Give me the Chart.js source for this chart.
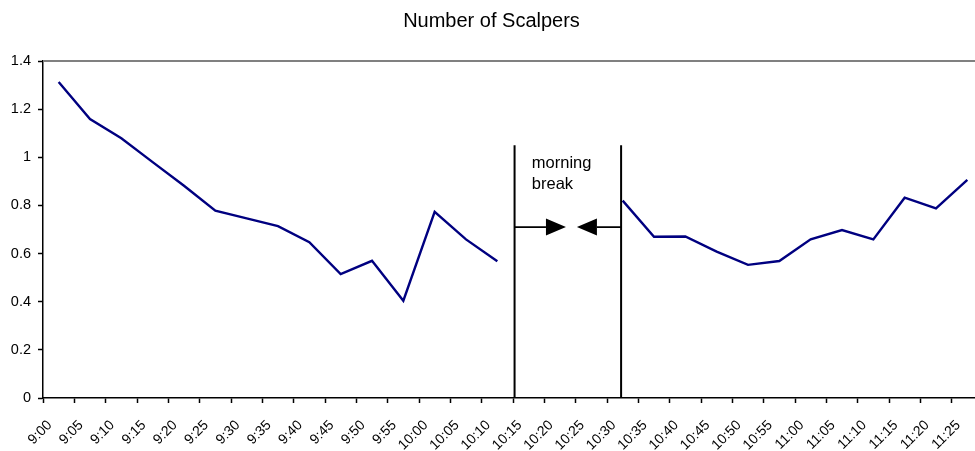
<!DOCTYPE html>
<html>
<head>
<meta charset="utf-8">
<title>Number of Scalpers</title>
<script src="https://cdn.jsdelivr.net/npm/chart.js@4/dist/chart.umd.min.js"></script>
<style>
  html, body { margin: 0; padding: 0; background: #fff; overflow: hidden; }
  /* the plot runs slightly past the right edge of the frame */
  #wrap { width: 975px; height: 451px; position: relative; overflow: hidden; }
  #chart { display: block; }
</style>
</head>
<body>
<div id="wrap"><canvas id="chart" width="983" height="451"></canvas></div>
<script>
// Five-minute intervals of the trading morning
const times = ['9:00','9:05','9:10','9:15','9:20','9:25','9:30','9:35','9:40','9:45',
               '9:50','9:55','10:00','10:05','10:10','10:15','10:20','10:25','10:30','10:35',
               '10:40','10:45','10:50','10:55','11:00','11:05','11:10','11:15','11:20','11:25'];

// Scalper counts before the break (9:00 - 10:10)
const beforeBreak = [1.313, 1.159, 1.079, 0.98, 0.882, 0.778, 0.746, 0.714, 0.647, 0.515,
                     0.570, 0.404, 0.773, 0.659, 0.568];
// No trading during the break (10:15 - 10:25)
const duringBreak = [null, null, null];
// Scalper counts after the break (10:30 - 11:25)
const afterBreak = [0.820, 0.670, 0.671, 0.608, 0.553, 0.569, 0.659, 0.698, 0.659, 0.832,
                    0.788, 0.906];

const scalpers = [...beforeBreak, ...duringBreak, ...afterBreak];

const yTicks = { min: 0, max: 1.4, step: 0.2 };

// Break marker, in axis units (category index on x, value on y)
const breakMarker = {
  from: 14.55, to: 17.95, top: 1.05, arrowLevel: 0.71,
  leftArrowTip: 16.19, rightArrowTip: 16.54,
  label: ['morning', 'break'], labelAt: 15.1, labelLines: [0.954, 0.868]
};

const FONT = '"Liberation Sans", Arial, sans-serif';

const breakPlugin = {
  id: 'breakMarker',
  beforeDatasetsDraw(chart) {
    const { ctx, chartArea } = chart;
    ctx.save();
    ctx.strokeStyle = '#808080';
    ctx.lineWidth = 2;
    ctx.beginPath();
    ctx.moveTo(chartArea.left, chartArea.top);
    ctx.lineTo(chartArea.right, chartArea.top);
    ctx.stroke();
    ctx.restore();
  },
  afterDatasetsDraw(chart) {
    const { ctx, scales: { x, y } } = chart;
    const m = breakMarker;
    const xl = x.getPixelForValue(m.from);
    const xr = x.getPixelForValue(m.to);
    const yTop = y.getPixelForValue(m.top);
    const yBot = y.getPixelForValue(0);
    const ya = y.getPixelForValue(m.arrowLevel);
    const tipL = x.getPixelForValue(m.leftArrowTip);
    const tipR = x.getPixelForValue(m.rightArrowTip);
    const headLen = 20, headHalf = 8.5;

    ctx.save();
    ctx.strokeStyle = '#000';
    ctx.fillStyle = '#000';
    ctx.lineWidth = 2;
    // bounding vertical lines
    ctx.beginPath();
    ctx.moveTo(xl, yTop); ctx.lineTo(xl, yBot);
    ctx.moveTo(xr, yTop); ctx.lineTo(xr, yBot);
    ctx.stroke();
    // arrow shafts
    ctx.lineWidth = 1.75;
    ctx.beginPath();
    ctx.moveTo(xl, ya); ctx.lineTo(tipL - headLen, ya);
    ctx.moveTo(xr, ya); ctx.lineTo(tipR + headLen, ya);
    ctx.stroke();
    // arrow heads
    ctx.beginPath();
    ctx.moveTo(tipL, ya);
    ctx.lineTo(tipL - headLen, ya - headHalf);
    ctx.lineTo(tipL - headLen, ya + headHalf);
    ctx.closePath();
    ctx.moveTo(tipR, ya);
    ctx.lineTo(tipR + headLen, ya - headHalf);
    ctx.lineTo(tipR + headLen, ya + headHalf);
    ctx.closePath();
    ctx.fill();
    // label
    ctx.font = '16.5px ' + FONT;
    ctx.textAlign = 'left';
    ctx.textBaseline = 'alphabetic';
    const lx = x.getPixelForValue(m.labelAt);
    m.label.forEach((t, i) => ctx.fillText(t, lx, y.getPixelForValue(m.labelLines[i])));
    ctx.restore();
  }
};

new Chart(document.getElementById('chart'), {
  type: 'line',
  data: {
    labels: times,
    datasets: [{
      label: 'Number of Scalpers',
      data: scalpers,
      borderColor: '#000080',
      borderWidth: 2.4,
      pointRadius: 0,
      pointHoverRadius: 0,
      fill: false,
      tension: 0,
      spanGaps: false
    }]
  },
  options: {
    responsive: false,
    animation: false,
    events: [],
    plugins: {
      legend: { display: false },
      tooltip: { enabled: false },
      title: {
        display: true,
        text: 'Number of Scalpers',
        color: '#000',
        font: { family: FONT, size: 20, weight: 'normal' },
        padding: { top: 9, bottom: 28 }
      }
    },
    scales: {
      x: {
        type: 'category',
        offset: true,
        grid: { display: true, offset: true, drawOnChartArea: false, drawTicks: true,
                tickLength: 5, color: '#000', tickWidth: 1.5 },
        border: { display: true, color: '#000', width: 1.5 },
        ticks: { autoSkip: false, minRotation: 45, maxRotation: 45, color: '#000',
                 font: { family: FONT, size: 14 }, padding: 14, labelOffset: -9 },
        afterFit(scale) { scale.height = 53; scale.paddingLeft = 0; scale.paddingRight = 0; }
      },
      y: {
        min: yTicks.min,
        max: yTicks.max,
        ticks: {
          stepSize: yTicks.step, color: '#000', font: { family: FONT, size: 14.5 }, padding: 7,
          callback: (v) => String(Number(v.toFixed(1)))
        },
        grid: { display: true, drawOnChartArea: false, drawTicks: true, tickLength: 5,
                color: '#000', tickWidth: 1.5 },
        border: { display: true, color: '#000', width: 1.5 },
        afterFit(scale) { scale.width = 43; }
      }
    }
  },
  plugins: [breakPlugin]
});
</script>
</body>
</html>
